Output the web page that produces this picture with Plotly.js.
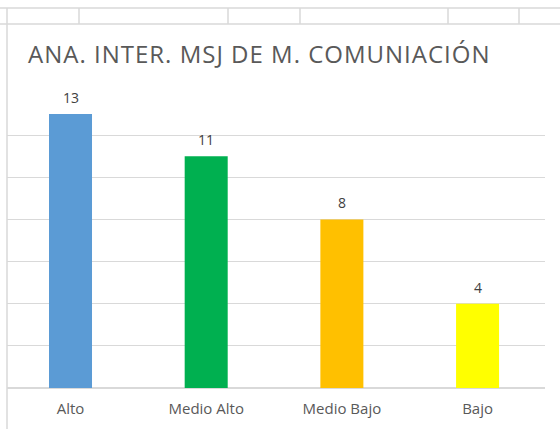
<!DOCTYPE html>
<html>
<head>
<meta charset="utf-8">
<script src="https://cdn.plot.ly/plotly-3.0.1.min.js"></script>
<style>
  html, body { margin: 0; padding: 0; background: #ffffff; }
  #chart { width: 560px; height: 429px; }
</style>
</head>
<body>
<div id="chart"></div>
<script>
const categories = ["Alto", "Medio Alto", "Medio Bajo", "Bajo"];
const values = [13, 11, 8, 4];
const barColors = ["#5B9BD5", "#00B050", "#FFC000", "#FFFF00"];
const chartTitle = "ANA. INTER. MSJ DE M. COMUNIACIÓN";

const W = 560, H = 429;
const M = { l: 7, r: 15, t: 93, b: 41 };
const plotW = W - M.l - M.r, plotH = H - M.t - M.b;
const px = x => (x - M.l) / plotW;
const py = y => (H - M.b - y) / plotH;

const lineColor = "#d9d9d9";
const shapes = [];
function line(x0, y0, x1, y1, w) {
  shapes.push({ type: "line", xref: "paper", yref: "paper",
    x0: px(x0), y0: py(y0), x1: px(x1), y1: py(y1),
    line: { color: lineColor, width: w || 1.5 }, layer: "above" });
}
line(0, 8, 560, 8);
line(0, 24, 560, 24);
line(7, 8, 7, 429);
[79, 228, 300, 448, 519].forEach(x => line(x, 8, x, 24));

const annotations = categories.map((c, i) => ({
  x: c, y: values[i], xref: "x", yref: "y",
  text: String(values[i]), showarrow: false,
  yanchor: "bottom", yshift: 5,
  font: { family: "Open Sans, sans-serif", size: 14, color: "#404040" }
}));

const trace = {
  type: "bar",
  x: categories,
  y: values,
  marker: { color: barColors },
  hoverinfo: "none"
};

const layout = {
  width: W, height: H,
  margin: M,
  paper_bgcolor: "#ffffff",
  plot_bgcolor: "#ffffff",
  showlegend: false,
  bargap: 0.683,
  title: {
    text: '<span style="letter-spacing:1px">' + chartTitle + '</span>',
    xref: "container", yref: "container",
    x: 28 / W, xanchor: "left",
    y: 1 - 55 / H, yanchor: "middle",
    font: { family: "Open Sans, sans-serif", size: 24, color: "#595959" }
  },
  xaxis: {
    type: "category",
    range: [-0.468, 3.497],
    showgrid: false,
    zeroline: false,
    showline: false,
    ticks: "",
    ticklabelstandoff: 10,
    tickfont: { family: "Open Sans, sans-serif", size: 15, color: "#595959" },
    fixedrange: true
  },
  yaxis: {
    range: [0, 14],
    dtick: 2,
    showgrid: true,
    gridcolor: lineColor,
    gridwidth: 1,
    zeroline: true,
    zerolinecolor: lineColor,
    zerolinewidth: 1.5,
    showticklabels: false,
    ticks: "",
    fixedrange: true
  },
  shapes: shapes,
  annotations: annotations
};

Plotly.newPlot("chart", [trace], layout, { displayModeBar: false, staticPlot: true });
</script>
</body>
</html>
